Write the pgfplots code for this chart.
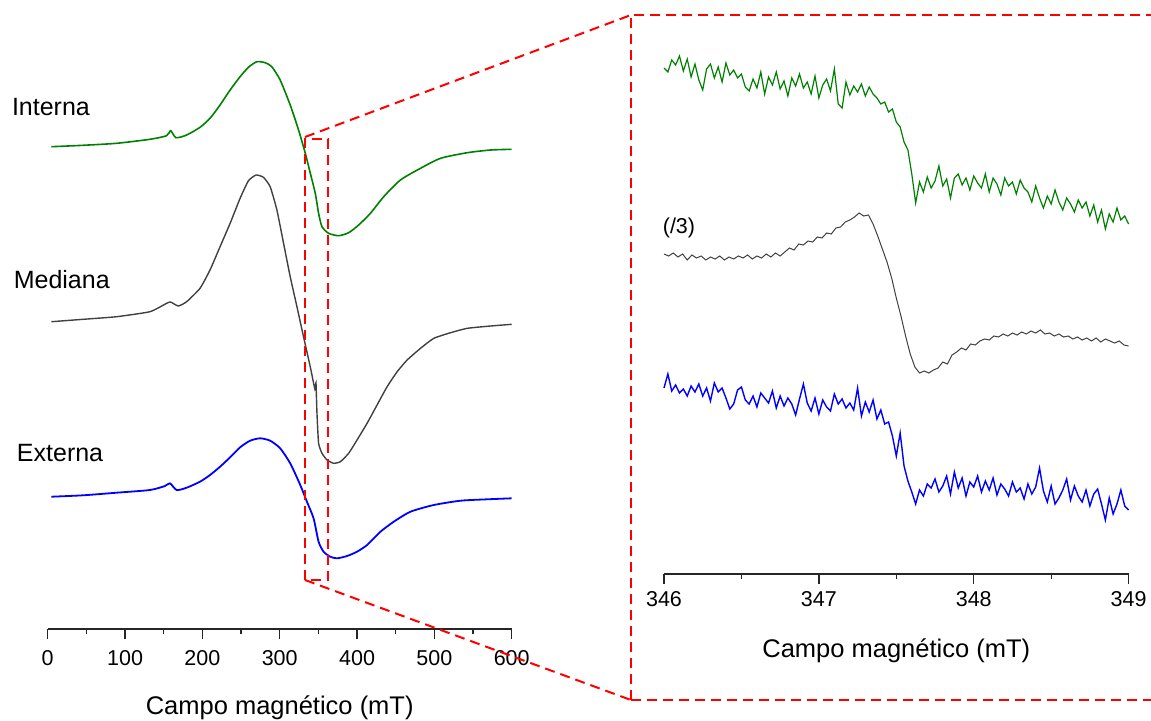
\documentclass[border=0pt]{standalone}
\usepackage{fontspec}
\setmainfont{Liberation Sans}
\usepackage{pgfplots}
\pgfplotsset{compat=1.18}

\definecolor{cgreen}{RGB}{0,128,0}
\definecolor{cgray}{RGB}{64,64,64}
\definecolor{cblue}{RGB}{0,0,255}
\definecolor{cred}{RGB}{255,0,0}

\tikzset{reddash/.style={cred, line width=1pt, dash pattern=on 5pt off 3pt}}

\pgfplotsset{
  myaxis/.style={
    scale only axis,
    axis x line=bottom, axis y line=none,
    x axis line style={-},
    axis line style={black!85, line width=0.65pt},
    tick style={black!85, line width=0.65pt},
    tick align=outside,
    major tick length=5pt, minor tick length=2.5pt,
    minor x tick num=1,
    /pgf/number format/assume math mode=true,
    ticklabel style={font=\fontsize{10.75}{12}\selectfont},
    label style={font=\fontsize{12.75}{14}\selectfont},
    clip=false,
  },
}

\begin{document}
\begin{tikzpicture}
\useasboundingbox (0,0) rectangle (575.5pt,360pt);

% ---------------- left panel ----------------
\begin{axis}[myaxis,
  at={(23.85pt,45.5pt)}, anchor=south west,
  width=232pt, height=314.5pt,
  xmin=0, xmax=600, ymin=0, ymax=629,
  xtick={0,100,...,600},
  xticklabel style={anchor=base, yshift=-13pt, inner sep=0pt},
  xlabel={Campo magnético (mT)},
  xlabel style={at={(axis description cs:0.5,0)}, anchor=base, yshift=-42.5pt, inner sep=0pt},
]
% Interna
\addplot[cgreen, line width=0.8pt, smooth, tension=0.4] coordinates {
(4.8,482.3)(45.8,483.7)(89,485.7)(132.2,489.7)(153.8,493.3)(159,498.3)(165.9,491.3)
(179.7,494)(196.97,501.7)(209.9,510.7)(222.9,524)(235.9,539)(248.8,552.3)(259.6,561.7)
(270.5,567.3)(281.2,566.3)(289.8,562.3)(300.6,549)(313.6,524)(324.4,499)(333.1,475.7)
(339.6,455.7)(346.0,435.7)(350.3,415.7)(354.7,402.3)(363.3,395.7)(376.2,393.3)(389.2,396.3)
(402.1,404)(417.3,415.7)(434.5,432.3)(456.1,449)(482.1,460.7)(508,470.7)(542.6,476.3)
(572.8,479)(600,479.7)};
% Mediana
\addplot[cgray, line width=0.7pt, smooth, tension=0.3] coordinates {
(4.8,307.3)(45.8,309.7)(89.0,312.3)(132.2,317.3)(153.8,325.7)(159,327)(168.9,323)
(179.7,327.3)(197.0,340.7)(209.9,359)(222.9,382.3)(235.9,405.7)(248.8,430.7)(259.6,448.3)
(269.5,454)(279.0,451.7)(287.7,442.3)(296.4,419)(305.0,385.7)(313.6,352.3)(322.3,322.3)
(330.8,292.3)(339.5,262.3)(345.6,239.7)(346.9,246.3)(348.2,215.7)(350.3,185.7)(354.7,175.7)
(361.2,169)(369.8,165.7)(378.4,167.3)(389.2,175.7)(400.0,189)(413.0,205.7)(425.9,224)
(438.9,242.3)(451.9,257.3)(464.8,269)(482.1,280.7)(499.3,290.7)(521.0,296.3)(542.6,300.7)
(572.8,303)(600,304.7)};
% Externa
\addplot[cblue, line width=0.9pt, smooth, tension=0.4] coordinates {
(4.8,132.3)(45.8,133.7)(89,136.3)(132.2,139)(151.6,143)(158.1,145.7)(166.8,139)
(179.7,141.3)(197,147.3)(209.9,154)(222.9,162.3)(235.9,171.7)(248.8,181.7)(261.7,188.3)
(274.7,190.7)(287.7,188.3)(300.6,180.7)(313.6,165.7)(326.6,144)(335.2,127.3)(343.8,110.7)
(350.3,87.3)(356.8,77.3)(365.4,72.3)(374.1,70.7)(387.1,73)(400,77.3)(413,84)(430.3,97.3)
(447.5,107.3)(469.1,117.3)(499.3,124)(533.8,128.3)(568.3,129.7)(600,130.7)};
\draw[reddash] (axis cs:332.7,49) rectangle (axis cs:362.5,490);
\coordinate (A) at (axis cs:332.7,492);
\coordinate (B) at (axis cs:332.7,49);
\end{axis}

\node[anchor=base west, inner sep=0pt, font=\fontsize{12.5}{14}\selectfont] at (5.8pt,302.5pt) {Interna};
\node[anchor=base west, inner sep=0pt, font=\fontsize{12.5}{14}\selectfont] at (6.7pt,215.8pt) {Mediana};
\node[anchor=base west, inner sep=0pt, font=\fontsize{12.5}{14}\selectfont] at (8.3pt,129.2pt) {Externa};

% ---------------- right panel ----------------
\begin{axis}[myaxis,
  at={(332pt,73pt)}, anchor=south west,
  width=232.3pt, height=287pt,
  xmin=346, xmax=349, ymin=0, ymax=574,
  xtick={346,347,348,349},
  xticklabel style={anchor=base, yshift=-11pt, inner sep=0pt},
  xlabel={Campo magnético (mT)},
  xlabel style={at={(axis description cs:0.5,0)}, anchor=base, yshift=-41.5pt, inner sep=0pt},
]
\addplot[cgreen, line width=0.6pt] table {
346.000 506
346.025 502
346.050 514
346.075 509
346.100 518
346.125 503
346.150 515
346.175 497
346.200 510
346.225 494
346.250 484
346.275 505
346.300 510
346.325 496
346.350 507
346.375 492
346.400 511
346.425 499
346.450 504
346.475 496
346.500 500
346.525 487
346.550 483
346.575 495
346.600 486
346.625 502
346.650 480
346.675 497
346.700 489
346.725 502
346.750 485
346.775 493
346.800 478
346.825 496
346.850 488
346.875 500
346.900 486
346.925 492
346.950 480
346.975 498
347.000 476
347.025 489
347.050 495
347.075 483
347.100 505
347.125 470
347.150 466
347.175 492
347.200 479
347.225 488
347.250 482
347.275 490
347.300 478
347.325 487
347.350 480
347.375 476
347.400 470
347.425 472
347.450 462
347.475 465
347.500 452
347.525 447
347.550 432
347.575 424
347.600 400
347.625 371
347.650 392
347.675 382
347.700 397
347.725 386
347.750 393
347.775 408
347.800 388
347.825 395
347.850 376
347.875 396
347.900 400
347.925 389
347.950 396
347.975 384
348.000 398
348.025 391
348.050 386
348.075 400
348.100 382
348.125 396
348.150 390
348.175 379
348.200 396
348.225 388
348.250 392
348.275 380
348.300 394
348.325 386
348.350 382
348.375 372
348.400 388
348.425 376
348.450 366
348.475 378
348.500 370
348.525 384
348.550 372
348.575 364
348.600 376
348.625 370
348.650 362
348.675 374
348.700 366
348.725 372
348.750 358
348.775 369
348.800 352
348.825 364
348.850 345
348.875 360
348.900 352
348.925 366
348.950 354
348.975 358
349.000 350
};
\addplot[cgray, line width=0.5pt] table {
346.000 320
346.030 318
346.060 321
346.090 317
346.120 320
346.150 314
346.180 319
346.210 316
346.240 318
346.270 314
346.300 317
346.330 315
346.360 318
346.390 314
346.420 317
346.450 315
346.480 318
346.510 316
346.540 319
346.570 315
346.600 318
346.630 316
346.660 320
346.690 317
346.720 321
346.750 318
346.780 322
346.810 326
346.840 324
346.870 330
346.900 329
346.930 333
346.960 332
346.990 337
347.020 336
347.050 341
347.080 340
347.110 346
347.140 347
347.170 352
347.200 354
347.230 357
347.260 361
347.290 358
347.320 359
347.350 350
347.380 338
347.410 325
347.440 312
347.470 296
347.500 276
347.530 258
347.560 238
347.590 220
347.620 207
347.650 201
347.680 203
347.710 201
347.740 204
347.770 206
347.800 212
347.830 210
347.860 219
347.890 222
347.920 226
347.950 224
347.980 230
348.010 229
348.040 233
348.070 235
348.100 234
348.130 238
348.160 237
348.190 240
348.220 238
348.250 241
348.280 239
348.310 242
348.340 240
348.370 243
348.400 241
348.430 244
348.460 240
348.490 241
348.520 238
348.550 240
348.580 237
348.610 238
348.640 235
348.670 237
348.700 234
348.730 236
348.760 233
348.790 236
348.820 232
348.850 235
348.880 233
348.910 231
348.940 233
348.970 229
349.000 228
};
\addplot[cblue, line width=0.7pt] table {
346.000 186
346.025 200
346.050 183
346.075 189
346.100 181
346.125 185
346.150 178
346.175 188
346.200 182
346.225 190
346.250 178
346.275 186
346.300 173
346.325 191
346.350 182
346.375 186
346.400 176
346.425 165
346.450 170
346.475 184
346.500 187
346.525 174
346.550 170
346.575 178
346.600 167
346.625 181
346.650 176
346.675 171
346.700 183
346.725 166
346.750 178
346.775 168
346.800 176
346.825 170
346.850 159
346.875 175
346.900 190
346.925 171
346.950 163
346.975 176
347.000 160
347.025 174
347.050 167
347.075 163
347.100 180
347.125 170
347.150 175
347.175 166
347.200 171
347.225 164
347.250 186
347.275 158
347.300 172
347.325 162
347.350 174
347.375 155
347.400 164
347.425 150
347.450 152
347.475 138
347.500 118
347.525 141
347.550 108
347.575 93
347.600 82
347.625 70
347.650 84
347.675 78
347.700 90
347.725 86
347.750 95
347.775 82
347.800 88
347.825 98
347.850 80
347.875 102
347.900 86
347.925 96
347.950 78
347.975 92
348.000 87
348.025 98
348.050 82
348.075 93
348.100 84
348.125 96
348.150 79
348.175 90
348.200 85
348.225 78
348.250 92
348.275 82
348.300 86
348.325 75
348.350 90
348.375 80
348.400 87
348.425 106
348.450 83
348.475 72
348.500 88
348.525 70
348.550 76
348.575 84
348.600 95
348.625 74
348.650 88
348.675 78
348.700 72
348.725 84
348.750 68
348.775 80
348.800 85
348.825 70
348.850 54
348.875 76
348.900 60
348.925 70
348.950 84
348.975 68
349.000 64
};
\node[anchor=base west, inner sep=0pt, font=\fontsize{10.75}{12}\selectfont] at (axis cs:345.99,340.7) {(/3)};
\end{axis}

% ---------------- zoom connectors ----------------
\draw[reddash] (A) -- (315.5pt,352.5pt);
\draw[reddash] (B) -- (315.5pt,10pt);
\draw[reddash] (315.5pt,10pt) -- (315.5pt,352.5pt) -- (580pt,352.5pt);
\draw[reddash] (315.5pt,10pt) -- (580pt,10pt);
\end{tikzpicture}
\end{document}
